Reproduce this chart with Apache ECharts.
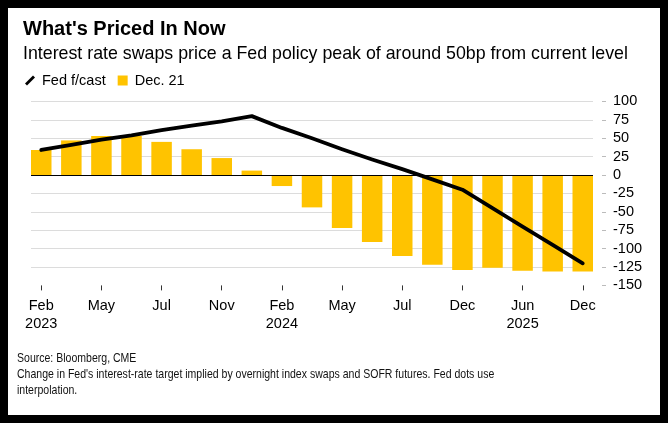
<!DOCTYPE html>
<html><head><meta charset="utf-8">
<script src="https://cdn.jsdelivr.net/npm/echarts@6/dist/echarts.min.js"></script>
<style>
html,body{margin:0;padding:0;background:#000;width:668px;height:423px;overflow:hidden;}
#c{position:absolute;left:8px;top:8px;width:652px;height:407px;background:#fff;}
</style></head><body><div id="c"></div>
<script>
const titleText = "What's Priced In Now";
const subtitleText = "Interest rate swaps price a Fed policy peak of around 50bp from current level";
const footerLines = ["Source: Bloomberg, CME", "Change in Fed's interest-rate target implied by overnight index swaps and SOFR futures. Fed dots use", "interpolation."];
const seriesNames = ["Fed f/cast", "Dec. 21"];
const tickLabels = ["Feb\n2023","","May","","Jul","","Nov","","Feb\n2024","","May","","Jul","","Dec","","Jun\n2025","","Dec"];
const pricedIn = [34,47,53,53,45,35,23,6,-15,-44,-72,-91,-110,-122,-129,-126,-130,-131,-131];
const fedForecast = [34,41,48,54,61,67,73,80,64,50,35,21,8,-6,-20,-45,-70,-95,-120];
const yMin = -150, yMax = 100, yStep = 25;

const FONT = '"Liberation Sans", Arial, Helvetica, sans-serif';
const chart = echarts.init(document.getElementById('c'));
const n = tickLabels.length;
const W = 652, H = 407;
const gridLeft = 23, gridRight = 67, gridTop = 93.4, gridBottom = 129.6;
const barW = 20.5;
const plotW = W - gridLeft - gridRight;
const step = (plotW - barW) / (n - 1);
const half = barW / 2 / step;
const tickIdx = tickLabels.map((t, i) => t ? i : -1).filter(i => i >= 0);

chart.setOption({
  animation: false,
  title: [
    {text: titleText, left: 15, top: 9, padding: 0,
     textStyle: {fontFamily: FONT, fontSize: 20, fontWeight: 'bold', lineHeight: 24, color: '#000'}},
    {text: subtitleText, left: 15, top: 35, padding: 0,
     textStyle: {fontFamily: FONT, fontSize: 17.8, fontWeight: 'normal', lineHeight: 22, color: '#000'}}
  ],
  graphic: [
    {type: 'text', left: 9, top: 342, scaleX: 0.81, originX: 0, originY: 0,
     style: {text: footerLines.join('\n'), font: '13px "Liberation Sans", Arial, sans-serif',
       lineHeight: 16, fill: '#111'}}
  ],
  legend: {
    left: 17, top: 65, padding: 0, itemWidth: 10, itemHeight: 10, itemGap: 12,
    textStyle: {fontFamily: FONT, fontSize: 14.5, color: '#000', padding: [0, 0, 0, 2]},
    data: [
      {name: seriesNames[0], icon: 'path://M0,8 L8,0 L10,2 L2,10 Z'},
      {name: seriesNames[1], icon: 'rect'}
    ]
  },
  grid: {left: gridLeft, right: gridRight, top: gridTop, bottom: gridBottom, containLabel: false},
  xAxis: {
    type: 'value', min: -half, max: n - 1 + half,
    splitLine: {show: false}, axisLine: {show: false, onZero: false},
    axisTick: {show: true, customValues: tickIdx, length: 5, lineStyle: {color: '#333', width: 1}},
    axisLabel: {customValues: tickIdx, formatter: v => tickLabels[Math.round(v)] || '',
      margin: 12, fontFamily: FONT, fontSize: 14.5, lineHeight: 17.5, color: '#000'}
  },
  yAxis: {
    type: 'value', position: 'right', offset: 9, min: yMin, max: yMax, interval: yStep,
    splitLine: {show: true, showMinLine: false, lineStyle: {color: '#dcdcdc', width: 1}},
    axisLine: {show: false, onZero: false},
    axisTick: {show: true, length: 4, lineStyle: {color: '#bbb', width: 1}},
    axisLabel: {margin: 11, fontFamily: FONT, fontSize: 14.5, color: '#000'}
  },
  series: [
    {name: seriesNames[1], type: 'bar', barWidth: barW,
     data: pricedIn.map((v, i) => [i, v]),
     itemStyle: {color: '#FFC300'},
     markLine: {silent: true, symbol: 'none', label: {show: false},
       lineStyle: {color: '#000', width: 1, type: 'solid'}, data: [{yAxis: 0}]}},
    {name: seriesNames[0], type: 'line', z: 5, showSymbol: false, symbol: 'none',
     data: fedForecast.map((v, i) => [i, v]),
     itemStyle: {color: '#000'},
     lineStyle: {color: '#000', width: 3.8, cap: 'round', join: 'round'}}
  ]
});
</script></body></html>
